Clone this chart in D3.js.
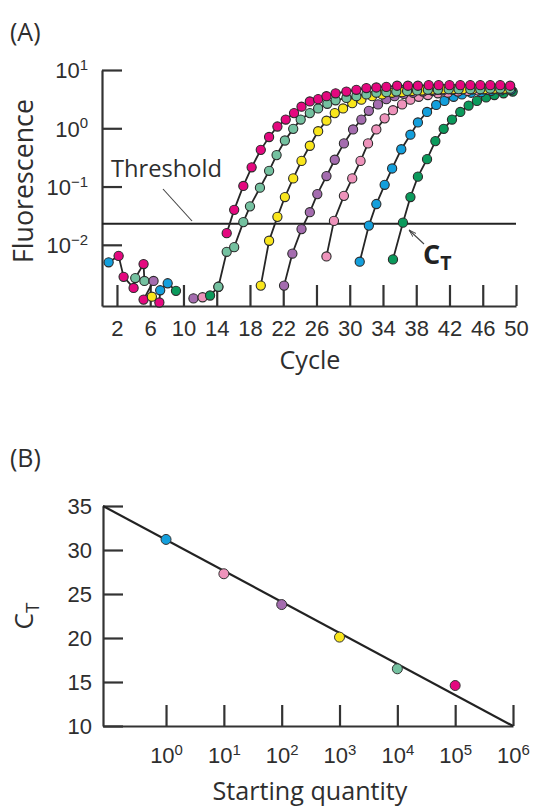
<!DOCTYPE html>
<html>
<head>
<meta charset="utf-8">
<script src="https://cdn.jsdelivr.net/npm/d3@7/dist/d3.min.js"></script>
<style>
  body { margin: 0; background: #fff; }
  svg { display: block; font-family: "Open Sans", "Noto Sans", sans-serif; }
  .axis path, .axis line { stroke: #333; stroke-width: 2.2; }
  .axis text { fill: #2e2e2e; font-size: 22px; }
</style>
</head>
<body>
<div id="chart"></div>
<script>
// --- DONNÉES : panneau A (cycle, log10 de la fluorescence) ---
const cycleTicks = [2, 6, 10, 14, 18, 22, 26, 30, 34, 38, 42, 46, 50];
const fluoExponents = [-2, -1, 0, 1];
const thresholdLog = -1.64;

// points du bruit de fond au début (cycle, log10 F, couleur)
const noise = [
  [1.0, -2.30, "blue"], [2.2, -2.19, "magenta"], [2.8, -2.55, "magenta"],
  [4.0, -2.74, "magenta"], [4.2, -2.57, "mint"], [5.2, -2.33, "magenta"],
  [5.3, -2.62, "mint"], [6.4, -2.62, "purple"], [5.2, -2.94, "magenta"],
  [6.2, -2.89, "yellow"], [7.1, -2.99, "magenta"], [7.2, -2.78, "blue"],
  [8.1, -2.66, "blue"], [9.1, -2.79, "green"]
];
const baseline = [
  [11.2, -2.92, "purple"], [12.3, -2.90, "pink"], [13.2, -2.87, "green"], [14.2, -2.72, "mint"]
];

const magenta = [[15.2,-1.80],[16.1,-1.40],[17.2,-0.99],[18.2,-0.67],[19.3,-0.37],[20.3,-0.15],[21.3,0.03],[22.3,0.15],[23.3,0.26],[24.2,0.37],[25.2,0.46],[26.2,0.50],[27.2,0.55],[28.3,0.60],[29.6,0.63],[30.8,0.66],[32.0,0.69],[33.2,0.70],[34.4,0.71],[35.7,0.73],[37.0,0.73],[38.2,0.73],[39.5,0.74],[40.7,0.74],[42.0,0.74],[43.3,0.74],[44.5,0.74],[45.7,0.74],[46.9,0.74],[48.1,0.74],[49.3,0.73]];
const mint = [[14.2,-2.72],[15.2,-2.12],[16.1,-2.04],[17.2,-1.61],[18.0,-1.34],[19.2,-1.02],[20.3,-0.73],[21.2,-0.46],[22.2,-0.21],[23.2,-0.01],[24.1,0.15],[25.2,0.26],[26.2,0.34],[27.3,0.42],[28.3,0.48],[29.6,0.52],[30.8,0.55],[32.0,0.58],[33.2,0.61],[34.4,0.62],[35.6,0.63],[36.9,0.64],[38.1,0.65],[39.4,0.66],[40.6,0.66],[41.9,0.67],[43.1,0.67],[44.5,0.67],[45.7,0.67],[46.9,0.68],[48.1,0.68],[49.3,0.68]];
const yellow = [[19.3,-2.70],[20.3,-1.93],[21.3,-1.52],[22.2,-1.18],[23.2,-0.86],[24.2,-0.56],[25.2,-0.30],[26.2,-0.05],[27.2,0.13],[28.2,0.26],[29.2,0.34],[30.3,0.43],[31.4,0.49],[32.7,0.55],[33.9,0.58],[35.1,0.61],[36.3,0.62],[37.5,0.64],[38.7,0.65],[39.9,0.66],[41.2,0.67],[42.4,0.67],[43.6,0.67],[44.8,0.67],[46.2,0.67],[47.4,0.68],[48.6,0.68]];
const purple = [[22.1,-2.70],[23.1,-2.15],[24.2,-1.73],[25.2,-1.44],[26.1,-1.13],[27.2,-0.82],[28.2,-0.54],[29.3,-0.26],[30.4,-0.02],[31.4,0.15],[32.3,0.30],[33.4,0.41],[34.4,0.50],[35.4,0.55],[36.5,0.59],[37.6,0.61],[38.8,0.63],[40.0,0.64],[41.2,0.65],[42.4,0.66],[43.6,0.67],[44.8,0.67],[46.0,0.67],[47.2,0.67],[48.4,0.67]];
const pink = [[27.2,-2.20],[28.1,-1.59],[29.3,-1.16],[30.3,-0.86],[31.3,-0.56],[32.2,-0.26],[33.2,-0.02],[34.2,0.17],[35.2,0.31],[36.3,0.41],[37.3,0.49],[38.3,0.54],[39.4,0.57],[40.6,0.60],[41.8,0.61],[43.0,0.63],[44.2,0.64],[45.4,0.65],[46.6,0.66],[47.8,0.67],[49.0,0.67]];
const blue = [[31.2,-2.29],[32.3,-1.67],[33.2,-1.30],[34.2,-0.97],[35.1,-0.69],[36.2,-0.36],[37.3,-0.11],[38.2,0.10],[39.3,0.28],[40.4,0.40],[41.4,0.47],[42.5,0.54],[43.5,0.58],[44.6,0.61],[45.8,0.62],[47.0,0.64],[48.2,0.65],[49.4,0.66]];
const green = [[35.2,-2.25],[36.4,-1.62],[37.3,-1.18],[38.2,-0.83],[39.3,-0.53],[40.3,-0.22],[41.3,-0.01],[42.3,0.15],[43.3,0.28],[44.3,0.39],[45.3,0.47],[46.4,0.53],[47.4,0.57],[48.5,0.60],[49.6,0.63]];

// --- DONNÉES : panneau B ---
const quantityExponents = [0, 1, 2, 3, 4, 5];
const ctValues = [31.2, 27.3, 23.8, 20.1, 16.5, 14.6];
const ctColors = ["blue", "pink", "purple", "yellow", "mint", "magenta"];
const fitLine = [[-1.09, 35], [6, 10]]; // (log10 quantité, CT)
const ctTicks = [10, 15, 20, 25, 30, 35];

const couleurs = {
  magenta: "#e4087f", mint: "#74c1a0", yellow: "#f9e61c", purple: "#a46caf",
  pink: "#ee93bb", blue: "#139fdc", green: "#0b9a5c"
};

const largeur = 534, hauteur = 809;
const svg = d3.select("#chart").append("svg").attr("width", largeur).attr("height", hauteur);
const encre = "#2e2e2e";

const sup = (sel, base, exp) => {
  sel.text(null);
  sel.append("tspan").text(base);
  sel.append("tspan").attr("dy", "-0.55em").attr("font-size", "0.68em").text(exp);
};
// ajuste la taille de police pour une largeur donnée (police de remplacement)
const ajuste = (t, w) => {
  const l = t.node().getComputedTextLength();
  t.attr("font-size", +t.attr("font-size") * w / l);
  return +t.attr("font-size");
};

// ================= PANNEAU A =================
const xA = d3.scaleLinear().domain([0.2, 50]).range([102, 516]);
const yA = d3.scaleLog().domain([Math.pow(10, -3.05), 10]).range([306, 70]);
const ptA = d => [xA(d[0]), yA(Math.pow(10, d[1]))];

svg.append("text").attr("x", 10).attr("y", 41).attr("font-size", 25).attr("fill", encre).text("(A)");

const gyA = svg.append("g").attr("class", "axis").attr("transform", "translate(102,0)")
  .call(d3.axisLeft(yA).tickValues(fluoExponents.map(e => Math.pow(10, e)))
    .tickSizeInner(-20).tickSizeOuter(0).tickPadding(14));
gyA.selectAll(".tick text").attr("dy", "0.36em").each(function(d) {
  const e = Math.round(Math.log10(d));
  sup(d3.select(this), "10", e < 0 ? "\u2212" + (-e) : String(e));
});

const gxA = svg.append("g").attr("class", "axis").attr("transform", "translate(0,306)")
  .call(d3.axisBottom(xA).tickValues(cycleTicks).tickSizeInner(-21).tickSizeOuter(0));
gxA.selectAll(".tick text").attr("y", 30).attr("dy", null);

const fl = svg.append("text").attr("transform", "translate(33,181) rotate(-90)").attr("text-anchor", "middle")
  .attr("font-size", 22).attr("fill", encre).text("Fluorescence");
ajuste(fl, 164);

// ligne de seuil
svg.append("line").attr("x1", xA(0.2)).attr("x2", xA(50))
  .attr("y1", yA(Math.pow(10, thresholdLog))).attr("y2", yA(Math.pow(10, thresholdLog)))
  .attr("stroke", "#222").attr("stroke-width", 2);
const th = svg.append("text").attr("x", 111).attr("y", 177).attr("font-size", 22).attr("fill", encre).text("Threshold");
ajuste(th, 111);
svg.append("line").attr("x1", 163).attr("y1", 189).attr("x2", 192).attr("y2", 221)
  .attr("stroke", "#444").attr("stroke-width", 1.1);

const curves = [
  ["green", green], ["blue", blue], ["pink", pink], ["purple", purple],
  ["yellow", yellow], ["mint", mint], ["magenta", magenta]
];
const ligne = d3.line().x(d => ptA(d)[0]).y(d => ptA(d)[1]);

// traits
const gl = svg.append("g").attr("fill", "none").attr("stroke", "#262626").attr("stroke-width", 1.8);
gl.append("path").attr("d", ligne(noise));
gl.append("path").attr("d", ligne(baseline));
curves.forEach(([c, s]) => gl.append("path").attr("d", ligne(s)));

// points
const gp = svg.append("g").attr("stroke", "#2a2a2a").attr("stroke-width", 1.1);
gp.selectAll("circle.n").data(noise.concat(baseline)).join("circle")
  .attr("cx", d => ptA(d)[0]).attr("cy", d => ptA(d)[1]).attr("r", 4.6)
  .attr("fill", d => couleurs[d[2]]);
curves.forEach(([c, s]) => {
  gp.append("g").selectAll("circle").data(s).join("circle")
    .attr("cx", d => ptA(d)[0]).attr("cy", d => ptA(d)[1]).attr("r", 4.6)
    .attr("fill", couleurs[c]);
});

// CT annotation
svg.append("defs").append("marker").attr("id", "fl").attr("viewBox", "0 0 10 10")
  .attr("refX", 10).attr("refY", 5).attr("markerWidth", 7).attr("markerHeight", 7).attr("orient", "auto")
  .append("path").attr("d", "M0,2 L10,5 L0,8").attr("fill", "none").attr("stroke", "#444").attr("stroke-width", 1.2);
svg.append("line").attr("x1", 424).attr("y1", 244).attr("x2", 409).attr("y2", 230)
  .attr("stroke", "#444").attr("stroke-width", 1.1).attr("marker-end", "url(#fl)");
const ct = svg.append("text").attr("x", 423).attr("y", 264).attr("font-size", 27).attr("font-weight", "bold").attr("fill", "#222");
ct.append("tspan").text("C");
ct.append("tspan").attr("dy", "0.3em").attr("font-size", "0.72em").text("T");

// ================= PANNEAU B =================
const xB = d3.scaleLog().domain([Math.pow(10, -1.09), 1e6]).range([103, 513]);
const yB = d3.scaleLinear().domain([10, 35]).range([726, 506]);

svg.append("text").attr("x", 10).attr("y", 467).attr("font-size", 25).attr("fill", encre).text("(B)");

svg.append("g").attr("class", "axis").attr("transform", "translate(103,0)")
  .call(d3.axisLeft(yB).tickValues(ctTicks).tickSizeInner(-20).tickSizeOuter(0).tickPadding(11))
  .selectAll(".tick text").attr("dy", "0.36em");

const gxB = svg.append("g").attr("class", "axis").attr("transform", "translate(0,726)")
  .call(d3.axisBottom(xB).tickValues([0, 1, 2, 3, 4, 5, 6].map(e => Math.pow(10, e)))
    .tickSizeInner(-21).tickSizeOuter(0));
gxB.selectAll(".tick text").attr("y", 37).attr("dy", null).each(function(d) {
  sup(d3.select(this), "10", String(Math.round(Math.log10(d))));
});

const sq = svg.append("text").attr("x", 310).attr("y", 800).attr("text-anchor", "middle")
  .attr("font-size", 22).attr("fill", encre).text("Starting quantity");
const tailleTitre = ajuste(sq, 195);
svg.append("text").attr("x", 310).attr("y", 369).attr("text-anchor", "middle")
  .attr("font-size", tailleTitre).attr("fill", encre).text("Cycle");

const yl = svg.append("text").attr("transform", "translate(33,616) rotate(-90)").attr("text-anchor", "middle")
  .attr("font-size", tailleTitre + 1).attr("fill", encre);
yl.append("tspan").text("C");
yl.append("tspan").attr("dy", "0.3em").attr("font-size", "0.72em").text("T");

svg.append("line")
  .attr("x1", xB(Math.pow(10, fitLine[0][0]))).attr("y1", yB(fitLine[0][1]))
  .attr("x2", xB(Math.pow(10, fitLine[1][0]))).attr("y2", yB(fitLine[1][1]))
  .attr("stroke", "#222").attr("stroke-width", 2.2);

svg.append("g").selectAll("circle").data(quantityExponents).join("circle")
  .attr("cx", e => xB(Math.pow(10, e))).attr("cy", (e, i) => yB(ctValues[i])).attr("r", 5)
  .attr("fill", (e, i) => couleurs[ctColors[i]]).attr("stroke", "#333").attr("stroke-width", 1);
</script>
</body>
</html>
